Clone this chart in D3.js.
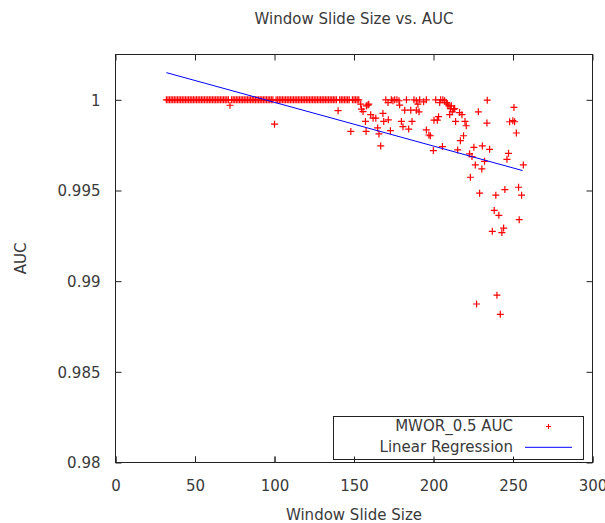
<!DOCTYPE html>
<html>
<head>
<meta charset="utf-8">
<script src="https://cdn.jsdelivr.net/npm/d3@7"></script>
<style>
  body { margin: 0; background: #fff; }
  svg { display: block; }
  text { font-family: "DejaVu Sans", sans-serif; font-size: 15px; fill: #3a3a3a; }
  .frame { fill: none; stroke: #222; stroke-width: 1; }
  .axis path { display: none; }
  .axis line { stroke: #222; stroke-width: 1; }
</style>
</head>
<body>
<script>
// window sizes where AUC stayed at 1
var perfectSizes = [32, 33, 34, 35, 36, 37, 38, 39, 40, 41, 42, 43, 44, 45, 46, 47, 48, 49,
    50, 51, 52, 53, 54, 55, 56, 57, 58, 59, 60, 61, 62, 63, 64, 65, 66, 67, 68, 69, 70, 71,
    73, 74, 75, 76, 77, 78, 79, 80, 81, 82, 83, 84, 85, 86, 87, 88, 89, 90, 91, 92, 93, 94,
    95, 96, 97, 98, 99, 101, 102, 103, 104, 105, 106, 107, 108, 109, 110, 111, 112, 113, 114,
    115, 116, 117, 118, 119, 120, 121, 122, 123, 124, 125, 126, 127, 128, 129, 130, 131, 132,
    133, 134, 135, 136, 137, 138, 139, 141, 142, 143, 144, 145, 146, 147, 149, 150, 151, 152,
    153, 170, 173.5, 175.6, 177, 183, 187.7, 191.3, 195.5, 201.4, 204.5, 205.9];

// the rest of the runs
var otherSizes = [72, 100, 140, 148,
    154.2, 154.7, 155.7, 157.8, 158.8, 159.3, 160.5, 162, 163.7, 157.2, 157.6, 164.9, 165.7,
    166.8, 168.2, 168.7, 171.6, 172.9, 171.4, 174.5, 178.3, 178.7, 181.9, 185.7, 189.2, 190.9,
    189.2, 193.8, 190.2, 179.8, 180.8, 184.4, 186.5, 195.5, 197.1, 198, 199.9,
    203.9, 207, 208.1, 208.7, 209.7, 210.6, 211.2, 212.7, 213.3, 211.8,
    200.3, 202.4, 203.2, 205.6, 210.2, 213.9, 216.4, 217.9, 219.8, 220.6, 218.9, 216.9, 215.2,
    222.7, 224.2, 225.4, 230.7, 235.3, 228.2, 233.8, 233.6, 226.3, 230.4, 232.1, 223.2,
    250.6, 247.9, 249.9, 251, 252.1, 247.2, 246.2, 256.5, 229, 244.9, 253.5, 255.4, 239.2,
    238.2, 241.1, 253.9, 237, 244.1, 243, 239.9, 227.1, 242];

var otherAuc = [0.9997, 0.99866, 0.9994, 0.99826,
    0.99976, 0.99949, 0.99935, 0.99967, 0.99971, 0.99976, 0.99918, 0.99899, 0.99899, 0.99881, 0.99826, 0.99845, 0.99812,
    0.99746, 0.99925, 0.99881, 0.9989, 0.9983, 0.99985, 0.99995, 0.99995, 0.99971, 0.99943, 0.99943, 0.99943, 0.99934,
    0.99995, 0.99989, 0.99976, 0.99881, 0.99852, 0.99839, 0.99881, 0.99834, 0.99806, 0.99802, 0.9972,
    0.99985, 0.99995, 0.99985, 0.99976, 0.99967, 0.99952, 0.99967, 0.99949, 0.99952, 0.99934,
    0.99888, 0.99888, 0.99907, 0.99742, 0.99918, 0.99881, 0.9993, 0.99918, 0.99881, 0.99857, 0.99802, 0.99775, 0.99724,
    0.99702, 0.99687, 0.99738, 0.99746, 0.99727, 0.99934, 0.99998, 0.99872, 0.99641, 0.99619, 0.99661, 0.99573,
    0.99958, 0.99879, 0.99885, 0.99879, 0.99817, 0.99705, 0.99672, 0.99641, 0.99485, 0.99505, 0.99518, 0.99474, 0.99474,
    0.9939, 0.99363, 0.99339, 0.99275, 0.99293, 0.99268, 0.98923, 0.98874, 0.98817];

// linear regression end points
var regSizes = [32, 256];
var regAuc = [1.0015, 0.9961];

var xTicks = [0, 50, 100, 150, 200, 250, 300];
var yTicks = [0.98, 0.985, 0.99, 0.995, 1];

var chartW = 605, chartH = 523;
var plotL = 115.5, plotR = 592.5, plotT = 54.5, plotB = 462.5;

var svg = d3.select("body").append("svg")
    .attr("width", chartW)
    .attr("height", chartH);

var xScale = d3.scaleLinear().domain([0, 300]).range([plotL, plotR]);
var yScale = d3.scaleLinear().domain([0.98, 1.0025]).range([plotB, plotT]);

// axes, ticks point inward like gnuplot
var xAxis = svg.append("g").attr("class", "axis")
    .attr("transform", "translate(0," + plotB + ")")
    .call(d3.axisBottom(xScale).tickValues(xTicks).tickSize(-6).tickFormat(d3.format("d")));
xAxis.selectAll("text").attr("y", 28).attr("dy", 0);

svg.append("g").attr("class", "axis")
    .attr("transform", "translate(0," + plotT + ")")
    .call(d3.axisTop(xScale).tickValues(xTicks).tickSize(-6).tickFormat(""));

var yAxis = svg.append("g").attr("class", "axis")
    .attr("transform", "translate(" + plotL + ",0)")
    .call(d3.axisLeft(yScale).tickValues(yTicks).tickSize(-6).tickFormat(function (d) {
        return d === 1 ? "1" : d3.format(".3~f")(d);
    }));
yAxis.selectAll("text").attr("x", -15).attr("dy", "0.36em");

svg.append("g").attr("class", "axis")
    .attr("transform", "translate(" + plotR + ",0)")
    .call(d3.axisRight(yScale).tickValues(yTicks).tickSize(-6).tickFormat(""));

svg.append("rect")
    .attr("class", "frame")
    .attr("x", plotL).attr("y", plotT)
    .attr("width", plotR - plotL).attr("height", plotB - plotT);

// points
var cross = "M-3.5,0H3.5M0,-3.5V3.5";
var points = perfectSizes.map(function (s) { return [s, 1]; })
    .concat(otherSizes.map(function (s, i) { return [s, otherAuc[i]]; }));

svg.append("g").attr("class", "points").selectAll("path")
    .data(points)
    .enter().append("path")
    .attr("d", cross)
    .attr("transform", function (d) {
        return "translate(" + xScale(d[0]) + "," + yScale(d[1]) + ")";
    })
    .style("fill", "none")
    .style("stroke", "rgb(255,0,0)")
    .style("stroke-width", 1.2);

// regression line
var line = d3.line()
    .x(function (d) { return xScale(d); })
    .y(function (d, i) { return yScale(regAuc[i]); });

svg.append("path")
    .datum(regSizes)
    .attr("d", line)
    .style("fill", "none")
    .style("stroke", "rgb(0,0,255)")
    .style("stroke-width", 1);

// legend
svg.append("rect")
    .attr("x", 333.5).attr("y", 416.5)
    .attr("width", 250).attr("height", 43)
    .style("fill", "#fff").style("stroke", "#222");

svg.append("text").attr("x", 513).attr("y", 431)
    .attr("text-anchor", "end").text("MWOR_0.5 AUC");
svg.append("path")
    .attr("d", "M-2.5,0H2.5M0,-2.5V2.5")
    .attr("transform", "translate(548.5,426.5)")
    .style("stroke", "rgb(255,0,0)").style("fill", "none");

svg.append("text").attr("x", 513).attr("y", 452)
    .attr("text-anchor", "end").text("Linear Regression");
svg.append("line")
    .attr("x1", 525).attr("x2", 572)
    .attr("y1", 447.3).attr("y2", 447.3)
    .style("stroke", "rgb(0,0,255)").style("stroke-width", 1);

// redraw bottom ticks over legend box
svg.append("g").attr("class", "axis")
    .attr("transform", "translate(0," + plotB + ")")
    .call(d3.axisBottom(xScale).tickValues(xTicks).tickSize(-6).tickFormat(""));

// titles
svg.append("text")
    .attr("x", (plotL + plotR) / 2).attr("y", 24)
    .attr("text-anchor", "middle")
    .text("Window Slide Size vs. AUC");

svg.append("text")
    .attr("x", (plotL + plotR) / 2).attr("y", 520)
    .attr("text-anchor", "middle")
    .text("Window Slide Size");

svg.append("text")
    .attr("transform", "translate(26," + (plotT + plotB) / 2 + ") rotate(-90)")
    .attr("text-anchor", "middle")
    .text("AUC");
</script>
</body>
</html>
